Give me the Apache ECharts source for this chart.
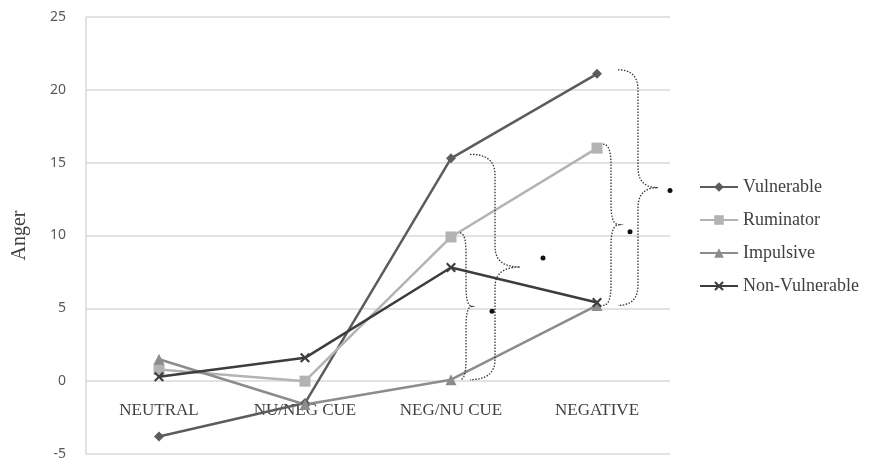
<!DOCTYPE html>
<html>
<head>
<meta charset="utf-8">
<script src="https://cdn.jsdelivr.net/npm/echarts@6/dist/echarts.min.js"></script>
<style>
  html, body { margin: 0; padding: 0; background: #fff; }
  #chart { width: 875px; height: 466px; }
</style>
</head>
<body>
<div id="chart"></div>
<script>
const categories = ["NEUTRAL", "NU/NEG CUE", "NEG/NU CUE", "NEGATIVE"];
const vulnerable = [-3.8, -1.5, 15.3, 21.1];
const ruminator = [0.8, 0.0, 9.9, 16.0];
const impulsive = [1.5, -1.6, 0.1, 5.2];
const nonVulnerable = [0.3, 1.6, 7.8, 5.4];
const yTicks = { min: -5, max: 25, step: 5 };

// significance braces: which category, which series top/bottom
const braces = [
  { cat: 2, top: vulnerable, bottom: impulsive, dx: 19, w: 50, star: [92, -9] },
  { cat: 2, top: ruminator, bottom: impulsive, dx: 9, w: 12, star: [41, 5] },
  { cat: 3, top: ruminator, bottom: impulsive, dx: 6, w: 16, star: [33, 7] },
  { cat: 3, top: vulnerable, bottom: impulsive, dx: 21, w: 40, star: [73, 3] }
];

const chart = echarts.init(document.getElementById("chart"));

const crossPath = "path://M0,1.5L1.5,0L5,3.5L8.5,0L10,1.5L6.5,5L10,8.5L8.5,10L5,6.5L1.5,10L0,8.5L3.5,5Z";

function lineSeries(name, data, color, symbol, size) {
  return {
    name: name,
    type: "line",
    data: data,
    symbol: symbol,
    symbolSize: size,
    lineStyle: { color: color, width: 2.5 },
    itemStyle: { color: color },
    emphasis: { disabled: true }
  };
}

const gridTop = 17, gridBottom = 12, chartH = 466;
const plotH = chartH - gridTop - gridBottom;
// move category labels up to the zero line, like the original
const zeroOffset = -plotH * (0 - yTicks.min) / (yTicks.max - yTicks.min);

chart.setOption({
  animation: false,
  grid: { left: 86, right: 205, top: gridTop, bottom: gridBottom, outerBoundsMode: "none" },
  legend: {
    orient: "vertical",
    left: 694,
    top: 173,
    itemWidth: 38,
    itemHeight: 12,
    itemGap: 15,
    textStyle: { fontFamily: "Liberation Serif", fontSize: 18, color: "#404040" },
    data: ["Vulnerable", "Ruminator", "Impulsive", "Non-Vulnerable"]
  },
  xAxis: {
    type: "category",
    data: categories,
    boundaryGap: true,
    offset: zeroOffset,
    axisLine: { show: false, onZero: false },
    axisTick: { show: false },
    axisLabel: { margin: 21, fontFamily: "Liberation Serif", fontSize: 17, color: "#404040" }
  },
  yAxis: {
    type: "value",
    min: yTicks.min,
    max: yTicks.max,
    interval: yTicks.step,
    name: "Anger",
    nameLocation: "middle",
    nameGap: 56,
    nameTextStyle: { fontFamily: "Liberation Serif", fontSize: 20, color: "#404040" },
    axisLine: { show: true, lineStyle: { color: "#d9d9d9", width: 1.5 } },
    axisTick: { show: false },
    axisLabel: { margin: 20, fontFamily: "Noto Sans", fontSize: 14, color: "#595959" },
    splitLine: { lineStyle: { color: "#d9d9d9", width: 1.5 } }
  },
  series: [
    lineSeries("Vulnerable", vulnerable, "#5c5c5c", "diamond", 10),
    lineSeries("Ruminator", ruminator, "#b3b3b3", "rect", 11),
    lineSeries("Impulsive", impulsive, "#8c8c8c", "triangle", 11),
    lineSeries("Non-Vulnerable", nonVulnerable, "#3d3d3d", crossPath, 10)
  ]
});

// quadratic curve sampled into points
function quad(p0, c, p1, out) {
  for (let i = 1; i <= 10; i++) {
    const t = i / 10, u = 1 - t;
    out.push([u * u * p0[0] + 2 * u * t * c[0] + t * t * p1[0],
              u * u * p0[1] + 2 * u * t * c[1] + t * t * p1[1]]);
  }
}

function bracePoints(x0, y1, y2, w) {
  const xm = x0 + w / 2;
  const ym = (y1 + y2) / 2;
  const r = Math.min(20, (y2 - y1) / 5);
  const pts = [[x0, y1]];
  quad([x0, y1], [xm, y1], [xm, y1 + r], pts);
  pts.push([xm, ym - r]);
  quad([xm, ym - r], [xm, ym], [x0 + w, ym], pts);
  quad([x0 + w, ym], [xm, ym], [xm, ym + r], pts);
  pts.push([xm, y2 - r]);
  quad([xm, y2 - r], [xm, y2], [x0, y2], pts);
  return pts;
}

function drawBraces() {
  const elements = [];
  braces.forEach(function (b) {
    const pTop = chart.convertToPixel({ gridIndex: 0 }, [b.cat, b.top[b.cat]]);
    const pBot = chart.convertToPixel({ gridIndex: 0 }, [b.cat, b.bottom[b.cat]]);
    const x0 = pTop[0] + b.dx;
    const y1 = pTop[1] - 4;
    const y2 = pBot[1];
    elements.push({
      type: "polyline",
      shape: { points: bracePoints(x0, y1, y2, b.w) },
      style: { fill: null, stroke: "#333", lineWidth: 1.3, lineDash: [1.5, 1.5] },
      z: 10
    });
    elements.push({
      type: "circle",
      shape: { cx: pTop[0] + b.star[0], cy: (y1 + y2) / 2 + b.star[1], r: 2.5 },
      style: { fill: "#111" },
      z: 10
    });
  });
  chart.setOption({ graphic: { elements: elements } });
}

drawBraces();
</script>
</body>
</html>
